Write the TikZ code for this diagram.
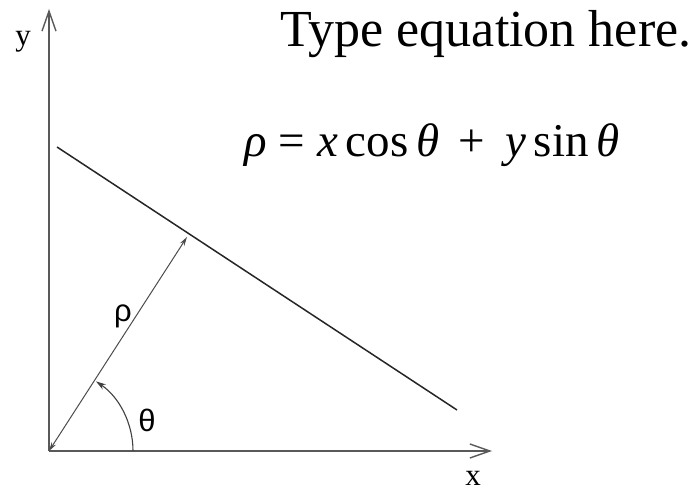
\documentclass[tikz,border=0pt]{standalone}
\usepackage{fontspec}
\setmainfont{Liberation Serif}
\newfontfamily\labelsans{Liberation Sans}
\usetikzlibrary{arrows.meta}

\begin{document}
\begin{tikzpicture}[x=1pt,y=1pt,
        axis/.style={line width=1.4pt,draw=black!65,-{Straight Barb[length=20pt,width=14pt,line width=1.4pt]}},
        normal/.style={line width=1pt,draw=black!70,{Stealth[length=9pt,width=5pt]}-{Stealth[length=9pt,width=5pt]}},
        axlabel/.style={font=\fontsize{31}{33}\selectfont},
        greek/.style={font=\labelsans\fontsize{31}{33}\selectfont}]
    \useasboundingbox (0,0) rectangle (692,492);
    \coordinate (O) at (49,41);\coordinate (ytip) at (49,483);\coordinate (xtip) at (492,41);
    \coordinate (A) at (57,345);\coordinate (B) at (457,82);
    \coordinate (P) at (187,255);
    \draw[axis] (O) -- (ytip);\draw[axis] (O) -- (xtip);
    \draw[line width=1.5pt,black!85] (A) -- (B);
    \draw[normal] (O) -- (P);
    \draw[line width=1.1pt,black!75,-{Stealth[length=10pt,width=6pt]}] ([shift={(0:84)}]O) arc[start angle=0,end angle=56,radius=84];
    \node[axlabel] (ylab) at (23,450) {y};
    \node[axlabel] (xlab) at (473,14) {x};
    \node[greek] (rholab) at (123,176) {ρ};
    \node[greek] (thetalab) at (147,72) {θ};
    \node[font=\fontsize{52}{56}\selectfont,anchor=base] (note) at (486,445) {Type equation here.};
    \node[font=\fontsize{47}{50}\selectfont,anchor=base] (eqn) at (432,335)
        {{\itshape ρ} = {\itshape x}\,cos\,{\itshape θ}\, + \,{\itshape y}\,sin\,{\itshape θ}};
\end{tikzpicture}
\end{document}
